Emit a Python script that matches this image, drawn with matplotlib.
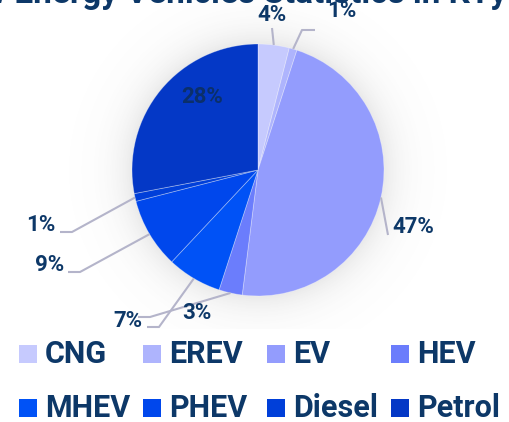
import numpy as np
import matplotlib.pyplot as plt
from matplotlib.patches import Rectangle

# data
labels = ["CNG", "EREV", "EV", "HEV", "MHEV", "PHEV", "Diesel", "Petrol"]
shares = [4, 1, 47, 3, 7, 9, 1, 28]
colors = ["#c6cafe", "#aeb4fd", "#939cfd", "#6b7dfc",
          "#0052f6", "#0047ec", "#003fd9", "#0438c6"]
title = "New Energy Vehicles Statistics in KTy"

navy = "#0d3868"
line_col = "#b4b4ca"
font = "Roboto"

W, H = 509, 422
fig = plt.figure(figsize=(W / 100, H / 100), dpi=100)
ax = fig.add_axes([0, 0, 1, 1])
cx, cy, r = 258, H - 170, 126


def Y(y):
    # layout measured from the top of the picture
    return H - y


# soft glow behind the pie
yy, xx = np.mgrid[0:H, 0:W]
d = np.hypot(xx + 0.5 - cx, (H - yy - 0.5) - cy)
glow = 0.13 * np.exp(-np.clip(d - r, 0, None) / 18.0)
img = np.zeros((H, W, 4))
img[..., :3] = 0.35
img[..., 3] = glow
ax.imshow(img, extent=[0, W, 0, H], zorder=0, interpolation="bilinear")

wedges, _ = ax.pie(shares, colors=colors, startangle=90, counterclock=False,
                   center=(cx, cy), radius=r,
                   wedgeprops=dict(edgecolor=(1, 1, 1, 0.35), linewidth=0.6))
for w in wedges:
    w.set_zorder(2)

# label layout (pixel positions from the top left)
label_pos = [(272, 15), (342, 11), (413, 227), (197, 313),
             (128, 321), (50, 265), (41, 225), (202, 97)]
leader = [[(272, 28)], [(302, 30), (315, 30)], [(388, 235)],
          [(150, 317), (138, 317)], [(159, 327), (147, 327)],
          [(80, 272), (68, 272)], [(72, 232), (60, 232)], None]

for w, v, pos, pts in zip(wedges, shares, label_pos, leader):
    if pts is None:
        ax.text(pos[0], Y(pos[1]), f"{v}%", ha="center", va="center",
                fontsize=16, fontweight="bold", family=font, color="#0b2f6a",
                zorder=4)
        continue
    mid = np.deg2rad((w.theta1 + w.theta2) / 2)
    xs = [cx + r * np.cos(mid)] + [p[0] for p in pts]
    ys = [cy + r * np.sin(mid)] + [Y(p[1]) for p in pts]
    ax.plot(xs, ys, color=line_col, lw=1.5, zorder=3, solid_capstyle="butt")
    ax.text(pos[0], Y(pos[1]), f"{v}%", ha="center", va="center",
            fontsize=16, fontweight="bold", family=font, color=navy, zorder=4)

# white legend band
ax.add_patch(Rectangle((0, 0), W, Y(329), facecolor="white", edgecolor="none",
                       zorder=5))

# legend
for i, (lab, col) in enumerate(zip(labels, colors)):
    row, c = divmod(i, 4)
    x0 = 19 + c * 124
    base = Y(363 + row * 54)
    ax.add_patch(Rectangle((x0, base), 18, 18, facecolor=col,
                           edgecolor="none", zorder=6))
    ax.text(x0 + 26, base, lab, ha="left", va="baseline", fontsize=22,
            fontweight="bold", family=font, color=navy, zorder=6)

# title sits mostly above the picture; labels are drawn over it
ax.text(507, Y(3), title, ha="right", va="baseline", fontsize=24,
        fontweight="bold", family=font, color=navy, zorder=1)

ax.set_xlim(0, W)
ax.set_ylim(0, H)
ax.set_aspect("auto")
ax.axis("off")
fig.savefig("out.png", dpi=100)
